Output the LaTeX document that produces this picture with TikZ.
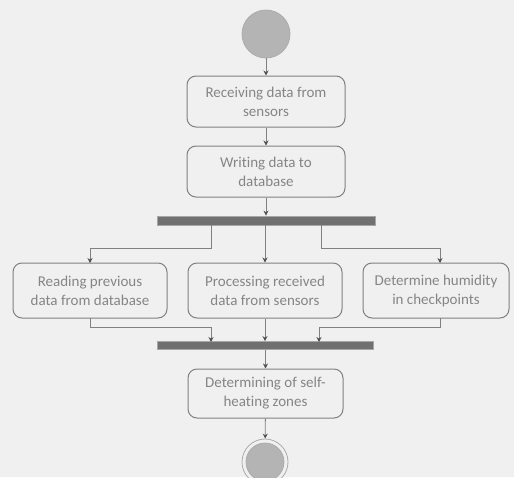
\documentclass[tikz,border=0pt]{standalone}
\usepackage{fontspec}
\setmainfont[Ligatures=NoCommon]{Carlito}
\usetikzlibrary{arrows.meta}
\definecolor{bg}{HTML}{F0F0F0}
\definecolor{ln}{HTML}{808080}
\definecolor{tx}{HTML}{858585}
\definecolor{barc}{HTML}{707070}
\definecolor{circf}{HTML}{B4B4B4}
\definecolor{tipc}{HTML}{505050}
\tikzset{
  act/.style={draw=ln, line width=1pt, rounded corners=9pt, fill=bg, text=tx,
    align=center, font=\fontsize{15}{19}\selectfont, inner sep=0pt},
  bar/.style={draw=gray!70, fill=barc, line width=0.8pt, inner sep=0pt},
  conn/.style={draw=ln, line width=0.9pt},
  arr/.style={conn, -{Stealth[length=5pt,width=5pt,color=tipc]}},
}
\begin{document}
\begin{tikzpicture}[x=1pt,y=-1pt]
\fill[bg] (0,0) rectangle (514,477);
\useasboundingbox (0,0) rectangle (514,477);
% start
\node[circle, draw=gray!65, fill=circf, line width=0.8pt, minimum size=48pt, inner sep=0pt] (start) at (266,34) {};
\node[act, minimum width=158pt, minimum height=51pt] (b1) at (266,101.5) {Receiving data from\\sensors};
\node[act, minimum width=158pt, minimum height=51pt] (b2) at (266,171.5) {Writing data to\\database};
\node[bar, minimum width=218pt, minimum height=9pt] (fork) at (266,220.5) {};
\node[act, minimum width=154pt, minimum height=55pt] (lb) at (90,290.5) {Reading previous\\data from database};
\node[act, minimum width=154pt, minimum height=55pt] (mb) at (265,290.5) {Processing received\\data from sensors};
\node[act, minimum width=146pt, minimum height=55pt] (rb) at (436,290.5) {Determine humidity\\in checkpoints};
\node[bar, minimum width=216pt, minimum height=8pt] (join) at (265,345.5) {};
\node[act, minimum width=155pt, minimum height=49pt] (fb) at (265.5,393.5) {Determining of self-\\heating zones};
\node[circle, draw=gray!65, fill=bg, line width=0.8pt, minimum size=46pt, inner sep=0pt] (endo) at (265,462) {};
\node[circle, draw=gray!65, fill=circf, line width=0.8pt, minimum size=38pt, inner sep=0pt] (endi) at (265,462) {};
% coordinates
\coordinate (fl) at (211,225);
\coordinate (fr) at (321,225);
\coordinate (flb) at (211,248);
\coordinate (frb) at (321,248);
\coordinate (lt) at (90,263);
\coordinate (rt) at (440,263);
\coordinate (lbot) at (90,318);
\coordinate (rbot) at (440,318);
\coordinate (lj) at (211,327);
\coordinate (rj) at (319,327);
\coordinate (ljb) at (211,342);
\coordinate (rjb) at (319,342);
% connectors
\draw[arr] (start) -- (b1);
\draw[arr] (b1) -- (b2);
\draw[arr] (b2) -- (fork);
\draw[arr] (fl) -- (flb) -| (lt);
\draw[arr] (fork.south -| mb) -- (mb);
\draw[arr] (fr) -- (frb) -| (rt);
\draw[arr] (lbot) |- (lj) -- (ljb);
\draw[arr] (mb) -- (join.north -| mb);
\draw[arr] (rbot) |- (rj) -- (rjb);
\draw[arr] (join.south -| fb) -- (fb);
\draw[arr] (fb) -- (endo);
\end{tikzpicture}
\end{document}
